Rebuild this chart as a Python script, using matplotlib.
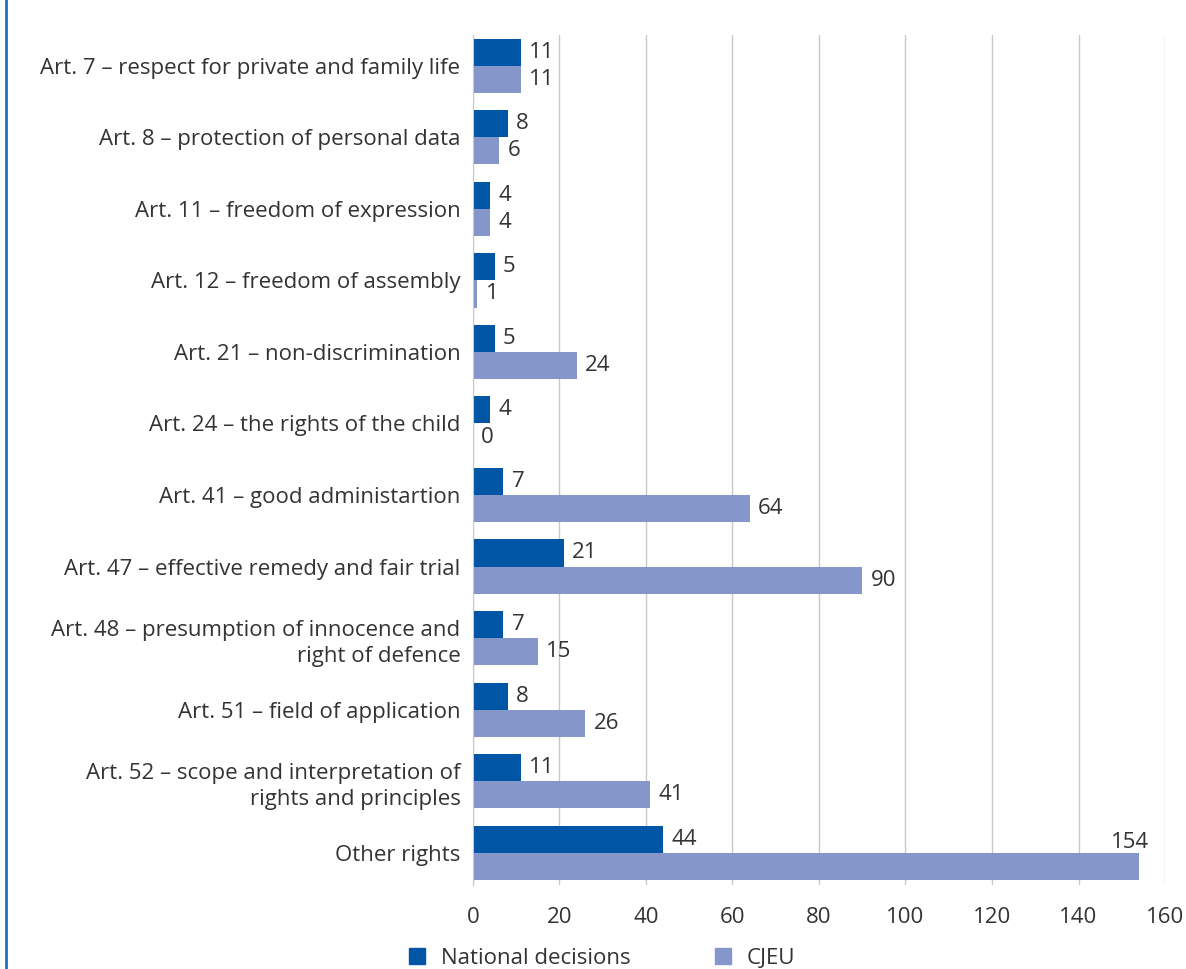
import matplotlib
matplotlib.use("Agg")
import matplotlib.pyplot as plt
import numpy as np
from matplotlib.lines import Line2D
from matplotlib.patches import Patch

categories = [
    "Art. 7 \u2013 respect for private and family life",
    "Art. 8 \u2013 protection of personal data",
    "Art. 11 \u2013 freedom of expression",
    "Art. 12 \u2013 freedom of assembly",
    "Art. 21 \u2013 non-discrimination",
    "Art. 24 \u2013 the rights of the child",
    "Art. 41 \u2013 good administartion",
    "Art. 47 \u2013 effective remedy and fair trial",
    "Art. 48 \u2013 presumption of innocence and\nright of defence",
    "Art. 51 \u2013 field of application",
    "Art. 52 \u2013 scope and interpretation of\nrights and principles",
    "Other rights",
]
national = [11, 8, 4, 5, 5, 4, 7, 21, 7, 8, 11, 44]
cjeu = [11, 6, 4, 1, 24, 0, 64, 90, 15, 26, 41, 154]
xticks = [0, 20, 40, 60, 80, 100, 120, 140, 160]

DARK = "#0055A4"
LIGHT = "#8596CB"
TEXT = "#333333"
FS = 16

plt.rcParams["font.family"] = ["Open Sans", "DejaVu Sans"]
plt.rcParams["font.size"] = FS

fig = plt.figure(figsize=(11.86, 9.69), dpi=100)
ax = fig.add_axes([0.3988, 0.0867, 0.5835, 0.8772])

y = np.arange(len(categories))
h = 0.38
b1 = ax.barh(y - h / 2, national, height=h, color=DARK)
b2 = ax.barh(y + h / 2, cjeu, height=h, color=LIGHT)
ax.bar_label(b1, padding=6, color=TEXT, fontsize=FS)

xmax = 160
for yi, v in zip(y, cjeu):
    if v > xmax * 0.9:
        # label would run past the plot edge: put it above the bar end
        ax.annotate(str(v), (v, yi), xytext=(7, 0), textcoords="offset points",
                    ha="right", va="bottom", color=TEXT, fontsize=FS)
    else:
        ax.annotate(str(v), (v, yi + h / 2), xytext=(6, 0), textcoords="offset points",
                    ha="left", va="center", color=TEXT, fontsize=FS)

ax.set_xlim(0, xmax)
ax.set_ylim(11.45, -0.43)
ax.set_xticks(xticks)
ax.set_yticks(y)
ax.set_yticklabels(categories, color=TEXT, ha="right", linespacing=1.35)
ax.tick_params(axis="both", length=0, labelcolor=TEXT, labelsize=FS)
ax.tick_params(axis="x", pad=16)
ax.tick_params(axis="y", pad=9)
ax.grid(axis="x", color="#C8C8C8", linewidth=1)
ax.set_axisbelow(True)
for s in ["top", "right", "bottom"]:
    ax.spines[s].set_visible(False)
ax.spines["left"].set_color("#C8C8C8")

fig.add_artist(Line2D([6 / 1186, 6 / 1186], [0, 1], color="#1E6FC0", linewidth=2))

handles = [Patch(color=DARK), Patch(color=LIGHT)]
fig.legend(handles, ["National decisions", "CJEU"], ncol=2, frameon=False,
           loc="center left", bbox_to_anchor=(409 / 1186, 1 - 958 / 969),
           handlelength=0.72, handleheight=0.72, handletextpad=0.7,
           columnspacing=3.8, borderpad=0, borderaxespad=0,
           labelcolor=TEXT, fontsize=FS)

fig.savefig("out.png", dpi=100)
